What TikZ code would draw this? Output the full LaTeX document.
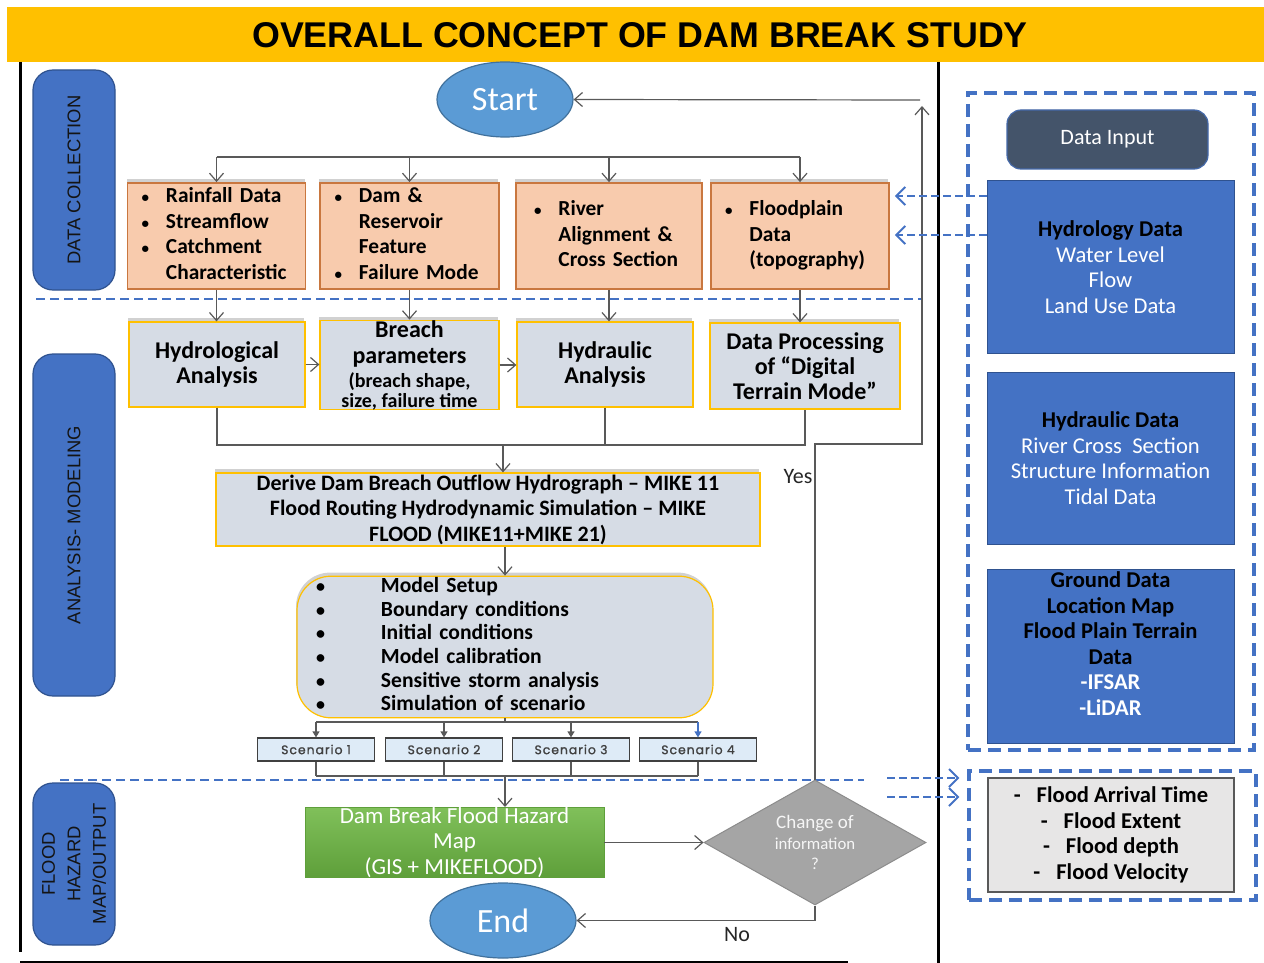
\documentclass[tikz,border=0pt]{standalone}
\usepackage{fontspec}
\setmainfont{Carlito}
\newfontfamily\titlefont{Liberation Sans}
\newfontfamily\scenfont[LetterSpace=8,FakeBold=1.2]{Poppins}
\usetikzlibrary{arrows.meta,shapes.geometric,shadows}

\newcommand\setfs[2]{\fontsize{#1}{#2}\selectfont}
\newcommand\smallbul{{\setfs{7.5}{7.5}•}}
\newcommand\bigbul{{\setfs{9}{9}•}}

\definecolor{banner}{HTML}{FFC000}
\definecolor{bluebox}{HTML}{4472C4}
\definecolor{blueline}{HTML}{2F528F}
\definecolor{lbltext}{HTML}{141414}
\definecolor{orangefill}{HTML}{F8CBAD}
\definecolor{orangeline}{HTML}{C9773F}
\definecolor{greyfill}{HTML}{D6DCE5}
\definecolor{ellfill}{HTML}{5B9BD5}
\definecolor{ellline}{HTML}{41719C}
\definecolor{slate}{HTML}{44546A}
\definecolor{scenfill}{HTML}{DEEBF7}
\definecolor{scenline}{HTML}{404040}
\definecolor{linegrey}{HTML}{595959}
\definecolor{greentop}{HTML}{80C05A}
\definecolor{greenbot}{HTML}{5E9F3A}
\definecolor{diamfill}{HTML}{A5A5A5}
\definecolor{outfill}{HTML}{E7E6E6}

\tikzset{
  conn/.style={draw=linegrey, line width=0.6pt},
  arr/.style={conn, -{Straight Barb[length=4pt,width=7pt]}},
  smallarr/.style={conn, -{Triangle[length=3pt,width=3.5pt]}},
  sepline/.style={draw=bluebox, line width=1pt, dash pattern=on 4.5pt off 2.5pt},
  dasharr/.style={draw=bluebox, line width=1pt, dash pattern=on 4pt off 2pt, -{Straight Barb[length=4.5pt,width=9pt]}},
  dframe/.style={draw=bluebox, line width=1.6pt, dash pattern=on 6.5pt off 3.5pt, inner sep=0pt},
  sectionlbl/.style={draw=blueline, fill=bluebox, line width=0.6pt, rounded corners=10pt, rotate=90,
    minimum height=41pt, inner sep=0pt, align=center, text=lbltext, font=\titlefont\setfs{9.2}{12.75}},
  boxshadow/.style={general shadow={fill=black, opacity=0.18, shadow xshift=-0.5pt, shadow yshift=1.8pt}},
  databox/.style={draw=orangeline, fill=orangefill, line width=0.9pt, boxshadow, minimum height=53pt,
    text width=75pt, inner xsep=7pt, inner ysep=0pt, align=left, font=\bfseries\setfs{10.7}{12.75}},
  procbox/.style={draw=banner, fill=greyfill, line width=0.6pt, boxshadow, inner sep=0pt, align=center,
    font=\bfseries\setfs{12}{12.75}},
  terminal/.style={ellipse, draw=ellline, fill=ellfill, line width=0.6pt, inner sep=0pt,
    text=white, font=\setfs{17}{20}},
  scenbox/.style={draw=scenline, fill=scenfill, line width=0.6pt, minimum width=58.5pt,
    minimum height=11.5pt, inner sep=0pt, text=scenline, font=\scenfont\setfs{6.2}{7}},
  infobox/.style={draw=blueline, fill=bluebox, line width=0.5pt, minimum width=123.5pt,
    inner sep=0pt, align=center, text=white, font=\setfs{11.3}{12.75}},
  decision/.style={diamond, draw=diamfill!85!black, fill=diamfill, line width=0.5pt,
    minimum width=111pt, minimum height=62.5pt, inner sep=0pt},
}

\begin{document}
\begin{tikzpicture}[x=0.5pt, y=-0.5pt]
\useasboundingbox (0,0) rectangle (1264,963);

% bandeau du titre
\fill[banner] (7,7) rectangle (1264,62);
\node[font=\titlefont\bfseries\setfs{17.9}{20}] (title) at (640,35) {OVERALL CONCEPT OF DAM BREAK STUDY};

% cadres noirs
\draw[line width=1.5pt] (20,62) -- (20,952);
\draw[line width=1.2pt] (20,962) -- (848,962);
\draw[line width=1.5pt] (938,62) -- (938,963);

% separations entre les phases
\draw[sepline] (36,299) -- (922,299);
\draw[sepline] (60,780) -- (864,780);

% etiquettes des phases
\node[sectionlbl, minimum width=110pt] (lblcoll) at (74,180) {DATA COLLECTION};
\node[sectionlbl, minimum width=171pt] (lblmod) at (74,525) {ANALYSIS- MODELING};
\node[sectionlbl, minimum width=81pt] (lblout) at (74,864) {FLOOD\\HAZARD\\MAP/OUTPUT};

\node[terminal, minimum width=68pt, minimum height=37.5pt] (begin) at (505,99.5) {Start};

% donnees collectees
\node[databox, minimum width=88.5pt] (rain) at (216.5,236) {\noindent\begin{tabular}{@{}l@{\hspace{8.5pt}}l@{}}
  \smallbul & Rainfall Data\\ \smallbul & Streamflow\\ \smallbul & Catchment\\ & Characteristic\end{tabular}};
\node[databox, minimum width=89.5pt] (dam) at (409.5,236) {\noindent\begin{tabular}{@{}l@{\hspace{8.5pt}}l@{}}
  \smallbul & Dam \&\\ & Reservoir\\ & Feature\\ \smallbul & Failure Mode\end{tabular}};
\node[databox, minimum width=93pt] (river) at (609,236) {\noindent\begin{tabular}{@{}l@{\hspace{8.5pt}}l@{}}
  \smallbul & River\\ & Alignment \&\\ & Cross Section\end{tabular}};
\node[databox, minimum width=89pt] (flood) at (800,236) {\noindent\begin{tabular}{@{}l@{\hspace{8.5pt}}l@{}}
  \smallbul & Floodplain\\ & Data\\ & (topography)\end{tabular}};

% analyses
\node[procbox, minimum width=88pt, minimum height=42.5pt] (hydro) at (217,364.5) {Hydrological\\Analysis};
\node[procbox, minimum width=89.5pt, minimum height=43pt, font=\bfseries\setfs{12}{13}] (breach) at (409.5,365)
  {Breach\\parameters\\[-1pt]\setfs{10}{11}(breach shape,\\[-3pt]\setfs{10}{11}size, failure time};
\node[procbox, minimum width=88pt, minimum height=42.5pt] (hydra) at (605,364.5) {Hydraulic\\Analysis};
\node[procbox, minimum width=95pt, minimum height=43pt, font=\bfseries\setfs{12}{12.5}] (dtm) at (805,366)
  {Data Processing\\of “Digital\\Terrain Mode”};

\node[procbox, minimum width=272pt, minimum height=36.5pt, font=\bfseries\setfs{11}{12.75}] (derive) at (488,509.5)
  {Derive Dam Breach Outflow Hydrograph – MIKE 11\\Flood Routing Hydrodynamic Simulation – MIKE\\FLOOD (MIKE11+MIKE 21)};

\node[procbox, rounded corners=17pt, minimum width=208pt, minimum height=67pt, text width=189pt,
  inner xsep=9.5pt, align=left, font=\bfseries\setfs{10.8}{11.8}] (steps) at (505,647)
  {\noindent\begin{tabular}{@{}l@{\hspace{28pt}}l@{}}
  \bigbul & Model Setup\\ \bigbul & Boundary conditions\\ \bigbul & Initial conditions\\
  \bigbul & Model calibration\\ \bigbul & Sensitive storm analysis\\ \bigbul & Simulation of scenario\end{tabular}};

\foreach \i/\x in {1/316,2/444,3/571,4/698}
  \node[scenbox] (scen\i) at (\x,749.5) {Scenario \i};

\node[draw=greenbot, top color=greentop, bottom color=greenbot, minimum width=149.5pt, minimum height=34.5pt,
  inner sep=0pt, text=white, align=center, font=\setfs{11.5}{12.75}] (hazard) at (454.5,842.5)
  {Dam Break Flood Hazard\\Map\\(GIS + MIKEFLOOD)};

\node[decision] (chg) at (815,842.5) {};
\node[text=white!90!diamfill, align=center, font=\setfs{8.4}{10.25}] (chgtxt) at (chg.center)
  {\setfs{9.5}{10.25}Change of\\information\\?};

\node[terminal, minimum width=73pt, minimum height=37.5pt] (finish) at (503,920.5) {End};

\node[font=\setfs{11}{13}, text=black!85] (yes) at (798,477) {Yes};
\node[font=\setfs{11}{13}, text=black!85] (no) at (737,935) {No};

% connecteurs
\draw[conn] (rain.north |- 0,157) -- (flood.north |- 0,157);
\foreach \b in {rain,dam,river,flood}
  \draw[arr] (\b.north |- 0,157) -- (\b.north);
\foreach \a/\b in {rain/hydro, dam/breach, river/hydra, flood/dtm}
  \draw[arr] (\a.south) -- (\a.south |- \b.north);
\draw[arr] (hydro.east) -- (breach.west |- hydro.east);
\draw[arr] (breach.east) -- (hydra.west |- breach.east);

\coordinate (join) at (503,445);
\draw[conn] (hydro.south) -- (hydro.south |- join) -- (dtm.south |- join) -- (dtm.south);
\draw[conn] (hydra.south) -- (hydra.south |- join);
\draw[arr] (join) -- (join |- derive.north);
\draw[arr] (steps.north |- derive.south) -- (steps.north);

\coordinate (sbus) at (505,722);
\draw[conn] (steps.south) -- (sbus);
\draw[conn] (scen1.north |- sbus) -- (scen4.north |- sbus);
\foreach \i in {1,2,3}
  \draw[smallarr] (scen\i.north |- sbus) -- (scen\i.north);
\draw[smallarr, draw=bluebox, fill=bluebox] (scen4.north |- sbus) -- (scen4.north);

\coordinate (sjoin) at (505,776);
\foreach \i in {1,...,4}
  \draw[conn] (scen\i.south) -- (scen\i.south |- sjoin);
\draw[conn] (scen1.south |- sjoin) -- (scen4.south |- sjoin);
\draw[arr] (sjoin) -- (sjoin |- hazard.north);

\draw[arr] (hazard.east) -- (chg.west);
\draw[arr] (chg.south) |- (finish.east);

\coordinate (fbk) at (922,444);
\coordinate (fbtop) at (922,106);
\coordinate (ret) at (920,100);
\draw[arr] (chg.north) |- (fbk) -- (fbtop);
\draw[arr] (ret) -- (begin.east);

% donnees d'entree
\node[dframe, minimum width=143pt, minimum height=328.5pt] (inframe) at (1111,421.5) {};
\node[draw=bluebox!70!slate, fill=slate, line width=0.6pt, rounded corners=7pt, minimum width=100.5pt,
  minimum height=29.5pt, text=white, font=\setfs{11}{13}] (input) at (1107.5,139.5) {Data Input};
\node[infobox, minimum height=86pt] (hydrol) at (1110.5,267)
  {\textcolor{black}{\bfseries Hydrology Data}\\Water Level\\Flow\\Land Use Data};
\node[infobox, minimum height=86pt] (hydrau) at (1110.5,458)
  {\textcolor{black}{\bfseries Hydraulic Data}\\River Cross \ Section\\Structure Information\\Tidal Data};
\node[infobox, minimum height=87pt] (ground) at (1110.5,656) {};
\node[align=center, font=\bfseries\setfs{11.3}{12.75}] (groundtxt) at ([yshift=6.25pt]ground.center)
  {Ground Data\\Location Map\\Flood Plain Terrain\\Data\\\textcolor{white}{-IFSAR}\\\textcolor{white}{-LiDAR}};

\draw[dasharr] (hydrol.west |- 0,196) -- ([xshift=2.5pt]flood.east |- 0,196);
\draw[dasharr] (hydrol.west |- 0,235) -- ([xshift=2.5pt]flood.east |- 0,235);

% resultats
\node[dframe, minimum width=143.5pt, minimum height=64.5pt] (outframe) at (1112.5,835.5) {};
\node[draw=linegrey, fill=outfill, line width=0.6pt, minimum width=123pt, minimum height=57pt, inner sep=0pt,
  align=center, font=\bfseries\setfs{11.3}{12.75}] (results) at (1111,835)
  {-\hspace{8pt}Flood Arrival Time\\-\hspace{8pt}Flood Extent\\-\hspace{8pt}Flood depth\\-\hspace{8pt}Flood Velocity};

\coordinate (outa) at (887,778);
\coordinate (outb) at (887,797);
\draw[dasharr] (outa) -- ([xshift=-4pt]outframe.west |- outa);
\draw[dasharr] (outb) -- ([xshift=-4pt]outframe.west |- outb);

\end{tikzpicture}
\end{document}
